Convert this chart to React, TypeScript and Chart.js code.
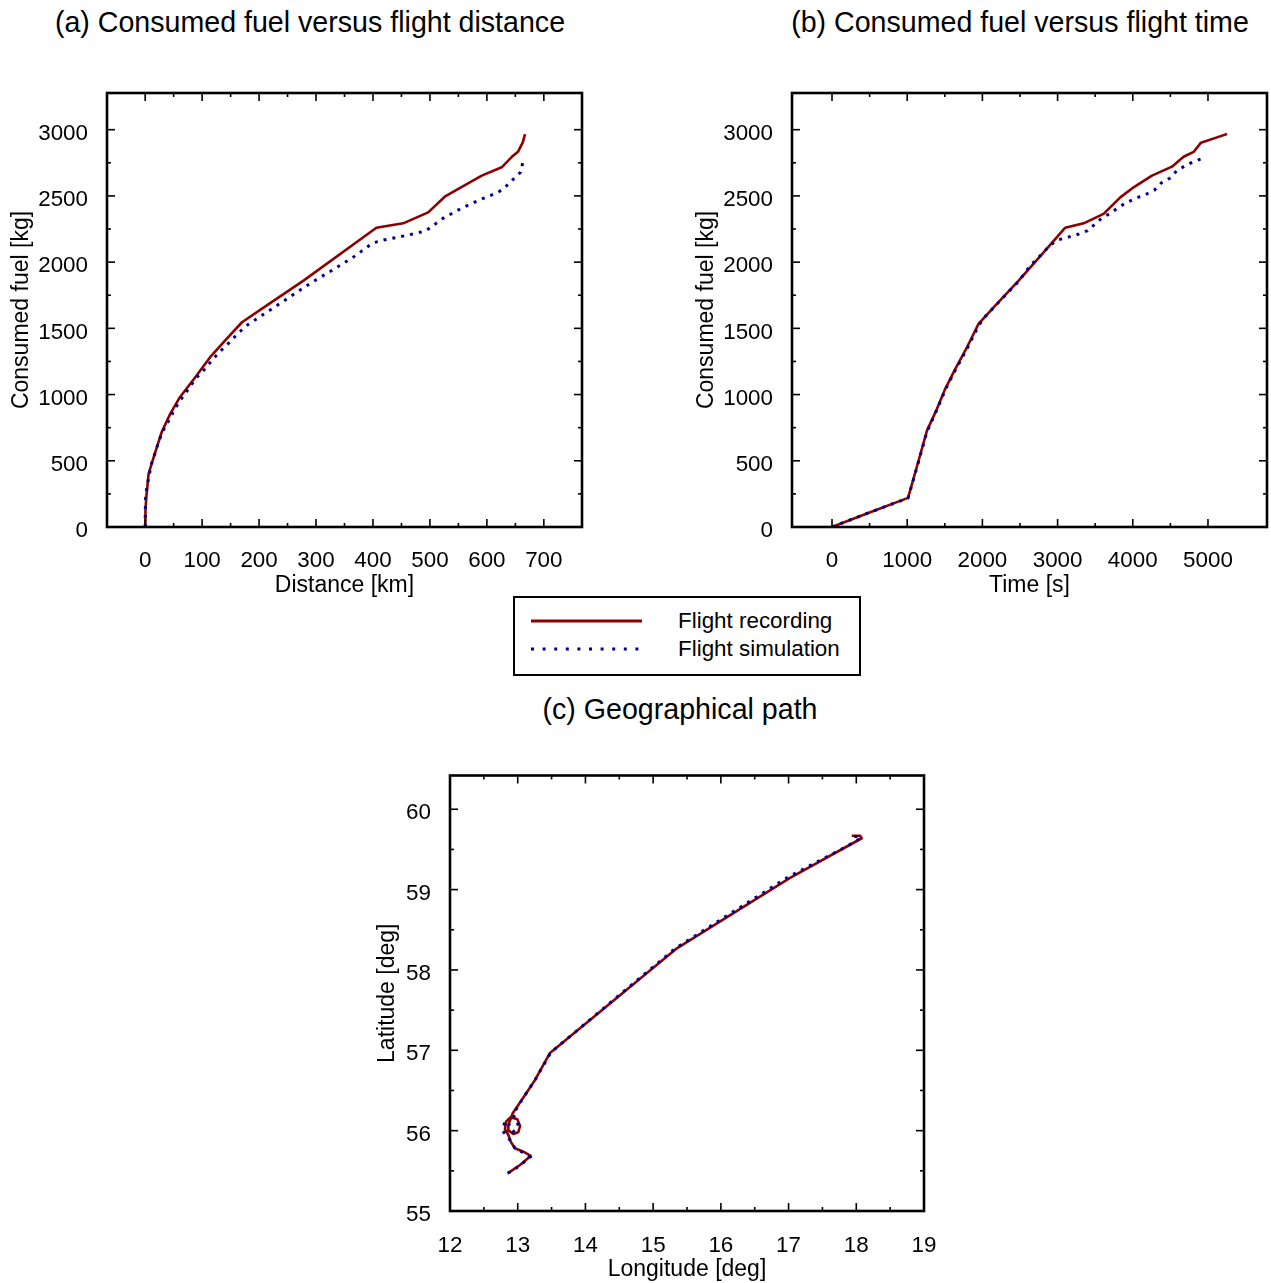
import React, { useEffect, useRef } from 'react';
import { Chart, registerables } from 'chart.js';

Chart.register(...registerables);

const FONT = '"Liberation Sans", Arial, Helvetica, sans-serif';
const RED = '#8b0000';
const NAVY = '#00008b';

// (a) consumed fuel versus flight distance
const DIST_REC = [0, 0.5, 2, 6, 15, 29, 44, 61, 88, 114, 143, 170, 213, 278, 406, 453, 497, 526, 553, 591, 626, 646, 655, 663, 667];
const FUEL_REC_DIST = [0, 120, 225, 401, 527, 716, 854, 980, 1131, 1282, 1420, 1546, 1672, 1860, 2260, 2293, 2376, 2494, 2560, 2653, 2716, 2804, 2836, 2904, 2967];
const DIST_SIM = [0, 0.5, 3, 7, 11, 18, 23, 30, 40, 49, 58, 69, 80, 91, 104, 117, 130, 147, 165, 178, 206, 236, 266, 295, 330, 365, 400, 419, 477, 494, 523, 555, 588, 620, 633, 646, 659, 664];
const FUEL_SIM_DIST = [0, 213, 300, 389, 477, 565, 635, 716, 791, 866, 934, 1000, 1068, 1131, 1189, 1257, 1319, 1390, 1470, 1521, 1601, 1685, 1772, 1853, 1943, 2036, 2145, 2167, 2218, 2240, 2331, 2406, 2472, 2527, 2570, 2625, 2678, 2770];

// (b) consumed fuel versus flight time
const TIME_REC = [0, 508, 1011, 1064, 1152, 1263, 1396, 1506, 1640, 1795, 1949, 2149, 2482, 2814, 3102, 3346, 3612, 3834, 4011, 4255, 4521, 4676, 4809, 4907, 5120, 5253];
const FUEL_REC_TIME = [0, 112, 220, 326, 502, 728, 892, 1043, 1194, 1357, 1534, 1659, 1860, 2074, 2260, 2293, 2364, 2489, 2565, 2653, 2721, 2796, 2832, 2902, 2942, 2967];
const TIME_SIM = [0, 500, 1011, 1064, 1152, 1263, 1396, 1506, 1640, 1795, 1949, 2038, 2216, 2482, 2637, 2814, 2894, 3000, 3133, 3271, 3399, 3590, 3701, 3811, 3922, 4046, 4175, 4290, 4379, 4490, 4588, 4698, 4809, 4941];
const FUEL_SIM_TIME = [0, 110, 218, 320, 495, 720, 885, 1035, 1185, 1345, 1520, 1589, 1697, 1855, 1974, 2074, 2125, 2167, 2187, 2210, 2238, 2334, 2368, 2414, 2451, 2484, 2512, 2545, 2598, 2633, 2691, 2728, 2758, 2786];

// (c) geographical path
const LON_REC = [12.852, 13.034, 13.192, 13.083, 12.96, 12.896, 12.862, 12.812, 12.827, 12.896, 12.995, 13.034, 13.009, 12.935, 12.871, 12.862, 12.926, 13.009, 13.108, 13.256, 13.477, 15.338, 17.022, 18.081, 18.056, 17.933];
const LAT_REC = [55.469, 55.573, 55.685, 55.738, 55.78, 55.863, 55.946, 56.017, 56.112, 56.166, 56.141, 56.058, 55.98, 55.958, 55.999, 56.07, 56.216, 56.319, 56.444, 56.631, 56.967, 58.261, 59.145, 59.639, 59.671, 59.671];
const LON_SIM = [12.852, 12.995, 13.182, 13.083, 12.96, 12.886, 12.778, 12.812, 12.862, 12.935, 13.009, 12.985, 12.926, 13.009, 13.093, 13.256, 13.49, 15.33, 17.0, 17.825, 17.982, 18.066, 18.046, 17.933];
const LAT_SIM = [55.469, 55.544, 55.668, 55.726, 55.78, 55.884, 55.996, 56.124, 56.092, 55.987, 56.058, 56.141, 56.195, 56.31, 56.423, 56.631, 56.975, 58.27, 59.16, 59.522, 59.597, 59.64, 59.661, 59.659];

const X_TICKS_A = [0, 100, 200, 300, 400, 500, 600, 700];
const X_TICKS_B = [0, 1000, 2000, 3000, 4000, 5000];
const Y_TICKS_FUEL = [0, 500, 1000, 1500, 2000, 2500, 3000];
const X_TICKS_C = [12, 13, 14, 15, 16, 17, 18, 19];
const Y_TICKS_C = [55, 56, 57, 58, 59, 60];

const pts = (xs: number[], ys: number[]) => xs.map((x, i) => ({ x, y: ys[i] }));

// Box frame plus inward major/minor tick marks on all four sides
const frameTicks = {
  id: 'frameTicks',
  afterDatasetsDraw(chart: any) {
    const { ctx, chartArea, scales } = chart;
    const { left, right, top, bottom } = chartArea;
    const MAJOR = 8;
    const MINOR = 4;
    const seg = (x1: number, y1: number, x2: number, y2: number) => {
      ctx.beginPath();
      ctx.moveTo(x1, y1);
      ctx.lineTo(x2, y2);
      ctx.stroke();
    };
    const withMinor = (vals: number[]) => {
      const out: [number, number][] = [];
      vals.forEach((v, i) => {
        out.push([v, MAJOR]);
        if (i < vals.length - 1) out.push([(v + vals[i + 1]) / 2, MINOR]);
      });
      return out;
    };
    ctx.save();
    ctx.strokeStyle = '#000';
    ctx.lineWidth = 1.6;
    const xs = scales.x;
    const ys = scales.y;
    withMinor(xs.ticks.map((t: any) => t.value)).forEach(([v, len]) => {
      const p = xs.getPixelForValue(v);
      seg(p, bottom, p, bottom - len);
      seg(p, top, p, top + len);
    });
    withMinor(ys.ticks.map((t: any) => t.value)).forEach(([v, len]) => {
      const p = ys.getPixelForValue(v);
      seg(left, p, left + len, p);
      seg(right, p, right - len, p);
    });
    ctx.lineWidth = 2.6;
    ctx.strokeRect(left, top, right - left, bottom - top);
    ctx.restore();
  },
};

const axis = (
  min: number,
  max: number,
  ticks: number[],
  title: string,
  isX: boolean,
  fit: number,
  tickPad: number,
  titlePad: { top: number; bottom: number }
) => ({
  type: 'linear',
  min,
  max,
  afterBuildTicks: (s: any) => {
    s.ticks = ticks.map((value) => ({ value }));
  },
  afterFit: (s: any) => {
    if (isX) s.height = fit;
    else s.width = fit;
  },
  grid: { display: false, drawTicks: false, tickLength: 0 },
  border: { display: false },
  ticks: {
    color: '#000',
    font: { family: FONT, size: 22.4 },
    padding: tickPad,
    labelOffset: isX ? 0 : 4,
    autoSkip: false,
    maxRotation: 0,
    callback: (v: any) => String(v),
  },
  title: {
    display: true,
    text: title,
    color: '#000',
    font: { family: FONT, size: 23 },
    padding: titlePad,
  },
});

const recDataset = (data: any[]) => ({
  label: 'Flight recording',
  data,
  showLine: true,
  borderColor: RED,
  backgroundColor: RED,
  borderWidth: 2.6,
  pointRadius: 0,
  borderJoinStyle: 'round',
  order: 1,
});

const simDataset = (data: any[]) => ({
  label: 'Flight simulation',
  data,
  showLine: true,
  borderColor: NAVY,
  backgroundColor: NAVY,
  borderWidth: 3,
  borderDash: [3, 6],
  borderCapStyle: 'butt',
  pointRadius: 0,
  order: 0,
});

type PanelSpec = {
  left: number;
  top: number;
  width: number;
  height: number;
  build: () => any;
};

function Panel({ spec }: { spec: PanelSpec }) {
  const ref = useRef<HTMLCanvasElement | null>(null);
  useEffect(() => {
    if (!ref.current) return;
    const chart = new Chart(ref.current, spec.build());
    return () => chart.destroy();
  }, [spec]);
  return (
    <canvas
      ref={ref}
      width={spec.width}
      height={spec.height}
      style={{ position: 'absolute', left: spec.left, top: spec.top, width: spec.width, height: spec.height }}
    />
  );
}

const baseOptions = (padding: any, scales: any) => ({
  responsive: false,
  animation: false,
  devicePixelRatio: 1,
  layout: { padding },
  plugins: { legend: { display: false }, tooltip: { enabled: false }, title: { display: false } },
  scales,
});

const PANEL_A: PanelSpec = {
  left: 0,
  top: 40,
  width: 600,
  height: 570,
  build: () => ({
    type: 'scatter',
    data: { datasets: [recDataset(pts(DIST_REC, FUEL_REC_DIST)), simDataset(pts(DIST_SIM, FUEL_SIM_DIST))] },
    options: baseOptions(
      { left: 0, right: 18, top: 53, bottom: 0 },
      {
        x: axis(-67, 767, X_TICKS_A, 'Distance [km]', true, 83, 20, { top: 0, bottom: 11 }),
        y: axis(0, 3277, Y_TICKS_FUEL, 'Consumed fuel [kg]', false, 107, 19, { top: 8, bottom: 0 }),
      }
    ),
    plugins: [frameTicks],
  }),
};

const PANEL_B: PanelSpec = {
  left: 680,
  top: 40,
  width: 591,
  height: 570,
  build: () => ({
    type: 'scatter',
    data: { datasets: [recDataset(pts(TIME_REC, FUEL_REC_TIME)), simDataset(pts(TIME_SIM, FUEL_SIM_TIME))] },
    options: baseOptions(
      { left: 0, right: 4, top: 53, bottom: 0 },
      {
        x: axis(-532, 5785, X_TICKS_B, 'Time [s]', true, 83, 20, { top: 0, bottom: 11 }),
        y: axis(0, 3277, Y_TICKS_FUEL, 'Consumed fuel [kg]', false, 112, 19, { top: 13, bottom: 0 }),
      }
    ),
    plugins: [frameTicks],
  }),
};

const PANEL_C: PanelSpec = {
  left: 360,
  top: 740,
  width: 600,
  height: 543,
  build: () => ({
    type: 'scatter',
    data: { datasets: [recDataset(pts(LON_REC, LAT_REC)), simDataset(pts(LON_SIM, LAT_SIM))] },
    options: baseOptions(
      { left: 0, right: 36, top: 35.5, bottom: 0 },
      {
        x: axis(12, 19, X_TICKS_C, 'Longitude [deg]', true, 72, 21, { top: 0, bottom: 0 }),
        y: axis(55, 60.42, Y_TICKS_C, 'Latitude [deg]', false, 90, 19, { top: 14, bottom: 0 }),
      }
    ),
    plugins: [frameTicks],
  }),
};

const titleStyle = (cx: number, cy: number): React.CSSProperties => ({
  position: 'absolute',
  left: cx - 350,
  width: 700,
  top: cy - 16,
  height: 32,
  lineHeight: '32px',
  textAlign: 'center',
  fontFamily: FONT,
  fontSize: 28.6,
  color: '#000',
  whiteSpace: 'nowrap',
});

const legendText = (cy: number): React.CSSProperties => ({
  position: 'absolute',
  left: 163,
  top: cy - 13,
  height: 26,
  lineHeight: '26px',
  fontFamily: FONT,
  fontSize: 22.4,
  color: '#000',
  whiteSpace: 'nowrap',
});

export default function App() {
  return (
    <div style={{ position: 'absolute', left: 0, top: 0, width: 1271, height: 1283, background: '#fff', overflow: 'hidden' }}>
      <div style={titleStyle(310, 22)}>(a) Consumed fuel versus flight distance</div>
      <div style={titleStyle(1020, 22)}>(b) Consumed fuel versus flight time</div>
      <div style={titleStyle(680, 709)}>(c) Geographical path</div>
      <Panel spec={PANEL_A} />
      <Panel spec={PANEL_B} />
      <Panel spec={PANEL_C} />
      <div
        style={{
          position: 'absolute',
          left: 513,
          top: 596,
          width: 348,
          height: 80,
          boxSizing: 'border-box',
          border: '2px solid #000',
          background: '#fff',
        }}
      >
        <svg width={344} height={76} style={{ position: 'absolute', left: 0, top: 0 }}>
          <line x1={16} y1={23} x2={127} y2={23} stroke={RED} strokeWidth={3} />
          <line x1={16} y1={51} x2={124} y2={51} stroke={NAVY} strokeWidth={3} strokeDasharray="3 8.6" />
        </svg>
        <div style={legendText(23)}>Flight recording</div>
        <div style={legendText(51)}>Flight simulation</div>
      </div>
    </div>
  );
}
